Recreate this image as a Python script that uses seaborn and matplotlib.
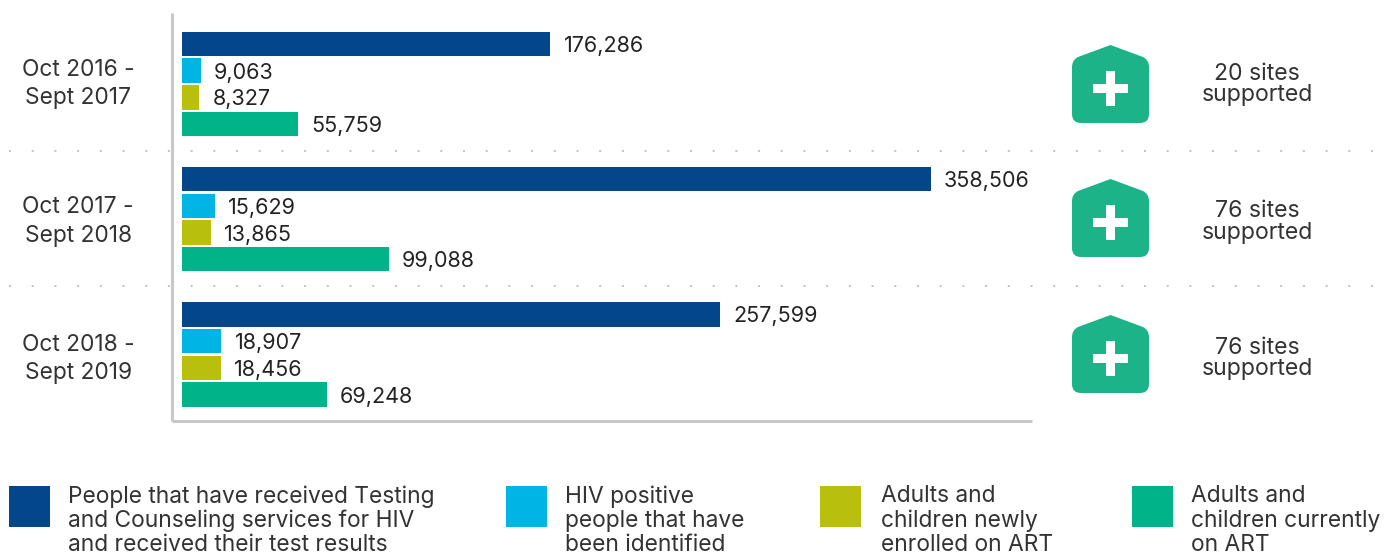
#!/usr/bin/env python3
"""HIV service results per reporting period, with sites supported."""

import pandas as pd
import matplotlib.pyplot as plt
import seaborn as sns
from matplotlib.patches import PathPatch, Rectangle
from matplotlib.path import Path
from matplotlib.transforms import ScaledTranslation

periods = ["Oct 2016 -\nSept 2017", "Oct 2017 -\nSept 2018", "Oct 2018 -\nSept 2019"]
measures = [
    "People that have received Testing\nand Counseling services for HIV\nand received their test results",
    "HIV positive\npeople that have\nbeen identified",
    "Adults and\nchildren newly\nenrolled on ART",
    "Adults and\nchildren currently\non ART",
]
tested = [176286, 358506, 257599]
positive = [9063, 15629, 18907]
enrolled = [8327, 13865, 18456]
current = [55759, 99088, 69248]
sites = ["20 sites\nsupported", "76 sites\nsupported", "76 sites\nsupported"]
colors = ["#03468C", "#00B5E6", "#B8BF0C", "#00B388"]

W, H = 1385, 554
FONT = "Inter"
ICON_GREEN = "#1DB388"

sns.set_theme(style="white")
plt.rcParams["font.family"] = [FONT, "DejaVu Sans"]


def house_path(top):
    """Rounded house outline, in pixels, with its apex at y=top"""
    l, r, mid, s, b, c = 1072, 1149, 1110.5, top + 15, top + 78, 9
    verts = [
        (mid, top), (r - 6, s - 3), (r, s), (r, s + 7), (r, b - c), (r, b), (r - c, b),
        (l + c, b), (l, b), (l, b - c), (l, s + 7), (l, s), (l + 6, s - 3), (mid, top),
    ]
    codes = [
        Path.MOVETO, Path.LINETO, Path.CURVE3, Path.CURVE3, Path.LINETO, Path.CURVE3, Path.CURVE3,
        Path.LINETO, Path.CURVE3, Path.CURVE3, Path.LINETO, Path.CURVE3, Path.CURVE3, Path.CLOSEPOLY,
    ]
    return Path(verts, codes)


df = pd.DataFrame(
    {
        "period": periods * 4,
        "measure": [m for m in measures for _ in periods],
        "value": tested + positive + enrolled + current,
    }
)

fig = plt.figure(figsize=(W / 100, H / 100), dpi=100)

# pixel-space layer for the decoration around the chart
overlay = fig.add_axes([0, 0, 1, 1])
overlay.set_xlim(0, W)
overlay.set_ylim(H, 0)
overlay.axis("off")

# main chart: the limits put the bars where they sit in the original
ax = fig.add_axes([172 / W, 1 - 421 / H, (1032 - 172) / W, (421 - 13) / H])
ax.patch.set_alpha(0)
sns.barplot(
    data=df, x="value", y="period", hue="measure", palette=colors, saturation=1,
    width=0.79, gap=0.09, linewidth=0, legend=False, ax=ax,
)
ax.set_xlim(-4785, 406900)
ax.set_ylim(2.4916, -0.525)
ax.set_xlabel("")
ax.set_ylabel("")
ax.set_xticks([])
sns.despine(ax=ax)
for side in ["left", "bottom"]:
    ax.spines[side].set_color("#C8C8C8")
    ax.spines[side].set_linewidth(2.2)
    ax.spines[side].set_capstyle("butt")

ax.tick_params(axis="y", length=0, pad=67.5)
# the period labels drift a little lower than the bars in the original
for label, nudge in zip(ax.get_yticklabels(), [0, 2.5, 4.5]):
    label.set_ha("center")
    label.set_va("center")
    label.set_fontsize(16.4)
    label.set_color("#333333")
    label.set_linespacing(1.4)
    label.set_transform(label.get_transform() + ScaledTranslation(0, -nudge / 100, fig.dpi_scale_trans))

for container in ax.containers:
    value_labels = ax.bar_label(container, fmt="{:,.0f}", padding=9.5, fontsize=15.5, color="#222222")
    for text in value_labels:
        text.set_va("center_baseline")

# dotted separators between periods
for y in [151, 286]:
    overlay.plot([9, 1375], [y, y], color="#C4C4C4", lw=1.44, linestyle=(0, (1, 10.35)))

# site icons and captions
for top, caption, text_y in zip([45, 179, 315], sites, [84.5, 222, 358.5]):
    overlay.add_patch(PathPatch(house_path(top), facecolor=ICON_GREEN, edgecolor="none"))
    overlay.add_patch(Rectangle((1106, top + 26), 9, 35, facecolor="white", edgecolor="none"))
    overlay.add_patch(Rectangle((1093, top + 39), 35, 9, facecolor="white", edgecolor="none"))
    overlay.text(1257, text_y, caption, ha="center", va="center", fontsize=16.6,
                 color="#333333", linespacing=0.98)

# legend, spaced unevenly as in the original
for x, color, name, text_x in zip([9, 506, 820, 1132], colors, measures, [68, 565, 881, 1191]):
    overlay.add_patch(Rectangle((x, 486), 41, 41, facecolor=color, edgecolor="none"))
    overlay.text(text_x, 485, name, ha="left", va="top", fontsize=16.4, color="#333333",
                 linespacing=1.12)

fig.savefig("out.png", dpi=100)
